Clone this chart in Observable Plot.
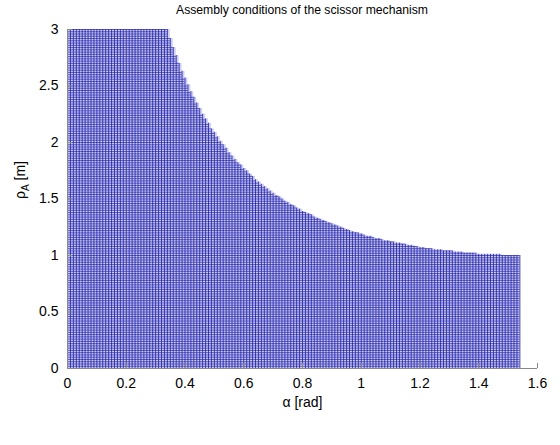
<!DOCTYPE html>
<html><head><meta charset="utf-8">
<script src="https://cdn.jsdelivr.net/npm/d3@7"></script>
<script src="https://cdn.jsdelivr.net/npm/@observablehq/plot@0.6"></script>
<style>
body{margin:0;background:#fff;font-family:"Liberation Sans",Arial,sans-serif;}
#title{position:relative;height:20px;width:560px;}
#title span{position:absolute;left:67px;width:470px;text-align:center;top:3px;font-size:12.2px;color:#000;}
svg{display:block;}
</style></head><body>
<div id="title"><span>Assembly conditions of the scissor mechanism</span></div>
<div id="chart"></div>
<script>
// grid columns: alpha [rad]
const alphaCols = [0,0.01,0.02,0.03,0.04,0.05,0.06,0.07,0.08,0.09,0.1,0.11,0.12,0.13,0.14,0.15,0.16,0.17,0.18,0.19,0.2,0.21,0.22,0.23,0.24,0.25,0.26,0.27,0.28,0.29,0.3,0.31,0.32,0.33,0.34,0.35,0.36,0.37,0.38,0.39,0.4,0.41,0.42,0.43,0.44,0.45,0.46,0.47,0.48,0.49,0.5,0.51,0.52,0.53,0.54,0.55,0.56,0.57,0.58,0.59,0.6,0.61,0.62,0.63,0.64,0.65,0.66,0.67,0.68,0.69,0.7,0.71,0.72,0.73,0.74,0.75,0.76,0.77,0.78,0.79,0.8,0.81,0.82,0.83,0.84,0.85,0.86,0.87,0.88,0.89,0.9,0.91,0.92,0.93,0.94,0.95,0.96,0.97,0.98,0.99,1,1.01,1.02,1.03,1.04,1.05,1.06,1.07,1.08,1.09,1.1,1.11,1.12,1.13,1.14,1.15,1.16,1.17,1.18,1.19,1.2,1.21,1.22,1.23,1.24,1.25,1.26,1.27,1.28,1.29,1.3,1.31,1.32,1.33,1.34,1.35,1.36,1.37,1.38,1.39,1.4,1.41,1.42,1.43,1.44,1.45,1.46,1.47,1.48,1.49,1.5,1.51,1.52,1.53,1.54];
// top of the assembled region for each column: rho_A max [m]
const rhoTop = [3,3,3,3,3,3,3,3,3,3,3,3,3,3,3,3,3,3,3,3,3,3,3,3,3,3,3,3,3,3,3,3,3,3,3,
2.92,2.84,2.77,2.70,2.63,2.57,2.51,2.45,2.40,2.35,2.30,2.25,2.21,2.17,2.12,2.09,2.05,2.01,1.98,1.95,
1.91,1.88,1.85,1.82,1.80,1.77,1.75,1.72,1.70,1.67,1.65,1.63,1.61,1.59,1.57,1.55,1.53,1.52,1.50,1.48,
1.47,1.45,1.44,1.42,1.41,1.39,1.38,1.37,1.36,1.34,1.33,1.32,1.31,1.30,1.29,1.28,1.27,1.26,1.25,1.24,
1.23,1.22,1.21,1.20,1.20,1.19,1.18,1.17,1.17,1.16,1.15,1.15,1.14,1.13,1.13,1.12,1.12,1.11,1.11,1.10,
1.10,1.09,1.09,1.08,1.08,1.07,1.07,1.06,1.06,1.06,1.05,1.05,1.05,1.04,1.04,1.04,1.04,1.03,1.03,1.03,
1.02,1.02,1.02,1.02,1.02,1.01,1.01,1.01,1.01,1.01,1.01,1.01,1.01,1.00,1.00,1.00,1.00,1.00,1.00,1.00];
// grid rows: rho_A [m]
const rhoRows = [0,0.02,0.04,0.06,0.08,0.1,0.12,0.14,0.16,0.18,0.2,0.22,0.24,0.26,0.28,0.3,0.32,0.34,0.36,0.38,0.4,0.42,0.44,0.46,0.48,0.5,0.52,0.54,0.56,0.58,0.6,0.62,0.64,0.66,0.68,0.7,0.72,0.74,0.76,0.78,0.8,0.82,0.84,0.86,0.88,0.9,0.92,0.94,0.96,0.98,1,1.02,1.04,1.06,1.08,1.1,1.12,1.14,1.16,1.18,1.2,1.22,1.24,1.26,1.28,1.3,1.32,1.34,1.36,1.38,1.4,1.42,1.44,1.46,1.48,1.5,1.52,1.54,1.56,1.58,1.6,1.62,1.64,1.66,1.68,1.7,1.72,1.74,1.76,1.78,1.8,1.82,1.84,1.86,1.88,1.9,1.92,1.94,1.96,1.98,2,2.02,2.04,2.06,2.08,2.1,2.12,2.14,2.16,2.18,2.2,2.22,2.24,2.26,2.28,2.3,2.32,2.34,2.36,2.38,2.4,2.42,2.44,2.46,2.48,2.5,2.52,2.54,2.56,2.58,2.6,2.62,2.64,2.66,2.68,2.7,2.72,2.74,2.76,2.78,2.8,2.82,2.84,2.86,2.88,2.9,2.92,2.94,2.96,2.98,3];
const xTicks = [0,0.2,0.4,0.6,0.8,1,1.2,1.4,1.6];
const yTicks = [0,0.5,1,1.5,2,2.5,3];

const cols = alphaCols.map((a, i) => ({alpha: a, top: rhoTop[i]}));
const rows = rhoRows.map(r => {
  const ok = cols.filter(c => c.top >= r - 1e-9);
  return {rho: r, right: ok.length ? ok[ok.length - 1].alpha : 0};
}).filter(r => r.right > 0);

const lineColor = "#2424b0";
const chart = Plot.plot({
  width: 560, height: 425,
  marginTop: 9, marginBottom: 77, marginLeft: 67, marginRight: 23,
  style: {fontFamily: "Liberation Sans, Arial, sans-serif", fontSize: "14px", background: "#fff", color: "#000"},
  x: {domain: [0, 1.6]},
  y: {domain: [0, 3]},
  marks: [
    Plot.areaY(cols, {x: "alpha", y1: 0, y2: "top", curve: "step-after", fill: "#cfcff0"}),
    Plot.ruleY(rows, {y: "rho", x1: 0, x2: "right", stroke: lineColor, strokeWidth: 0.7}),
    Plot.ruleX(cols, {x: "alpha", y1: 0, y2: "top", stroke: lineColor, strokeWidth: 0.85}),
    Plot.ruleY([0], {stroke: "#888"}),
    Plot.ruleX([0], {stroke: "#888"}),
    Plot.axisX({ticks: xTicks, tickFormat: d => String(d), tickSize: -5, tickPadding: 15, stroke: "#888", label: null}),
    Plot.axisY({ticks: yTicks, tickFormat: d => String(d), tickSize: -5, tickPadding: 14, stroke: "#888", label: null}),
    Plot.text(["α [rad]"], {frameAnchor: "bottom", dy: 38, fontSize: 14}),
    Plot.text(["ρA [m]"], {frameAnchor: "left", dx: -47, rotate: -90, fontSize: 14, className: "ylab"})
  ]
});
document.getElementById("chart").appendChild(chart);
// subscript for rho_A
const t = chart.querySelector(".ylab text");
if (t) {
  t.textContent = "";
  const ns = "http://www.w3.org/2000/svg";
  const a = document.createElementNS(ns, "tspan"); a.textContent = "ρ";
  const b = document.createElementNS(ns, "tspan"); b.textContent = "A"; b.setAttribute("font-size", "10"); b.setAttribute("dy", "4");
  const c = document.createElementNS(ns, "tspan"); c.textContent = " [m]"; c.setAttribute("dy", "-4");
  t.append(a, b, c);
}
</script>
</body></html>
